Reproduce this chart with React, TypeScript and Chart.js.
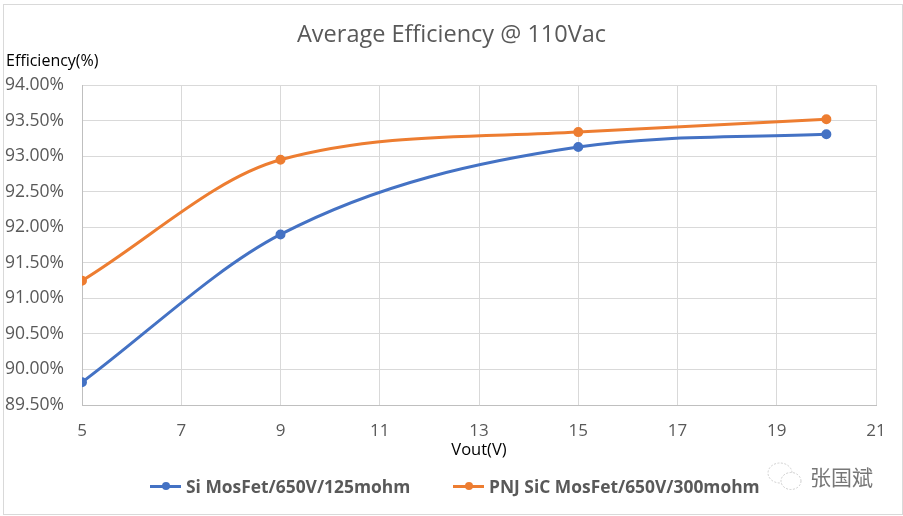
import { useEffect, useRef } from "react";
import { Chart, registerables } from "chart.js";

Chart.register(...registerables);

const vout = [5, 9, 15, 20];
const siEff = [89.82, 91.9, 93.13, 93.31];
const sicEff = [91.25, 92.95, 93.34, 93.52];
const seriesNames = ["Si MosFet/650V/125mohm", "PNJ SiC MosFet/650V/300mohm"];
const seriesColors = ["#4472c4", "#ed7d31"];
const FONT = "'Open Sans', 'Noto Sans', sans-serif";

function toPoints(xs: number[], ys: number[]) {
    return xs.map((x, i) => ({ x, y: ys[i] }));
}

function LegendItem({ name, color, left }: { name: string; color: string; left: number }) {
    return (
        <div style={{ position: "absolute", left, top: 474, height: 24, display: "flex", alignItems: "center", whiteSpace: "nowrap" }}>
            <span style={{ position: "relative", display: "inline-block", width: 31, height: 3, background: color, marginRight: 5 }}>
                <span style={{ position: "absolute", left: 12, top: -2.5, width: 8, height: 8, borderRadius: "50%", background: color }}></span>
            </span>
            <span style={{ font: `bold 17.4px ${FONT}`, color: "#595959" }}>{name}</span>
        </div>
    );
}

export default function App() {
    const chartRef = useRef<HTMLCanvasElement>(null);

    useEffect(() => {
        if (!chartRef.current) return;
        document.body.style.margin = "0";

        const chart = new Chart(chartRef.current, {
            type: "scatter",
            data: {
                datasets: [
                    {
                        label: seriesNames[0],
                        data: toPoints(vout, siEff),
                        showLine: true,
                        borderColor: seriesColors[0],
                        backgroundColor: seriesColors[0],
                        borderWidth: 3,
                        pointRadius: 3.5,
                        cubicInterpolationMode: "monotone",
                    },
                    {
                        label: seriesNames[1],
                        data: toPoints(vout, sicEff),
                        showLine: true,
                        borderColor: seriesColors[1],
                        backgroundColor: seriesColors[1],
                        borderWidth: 3,
                        pointRadius: 3.5,
                        cubicInterpolationMode: "monotone",
                    },
                ],
            },
            options: {
                animation: false,
                responsive: false,
                layout: { padding: { left: 0, right: 0, top: 21, bottom: 46 } },
                plugins: {
                    title: {
                        display: true,
                        text: "Average Efficiency @ 110Vac",
                        color: "#595959",
                        font: { family: FONT, size: 23.5, weight: "normal" },
                        padding: { top: 0, bottom: 36 },
                    },
                    legend: { display: false },
                    tooltip: { enabled: false },
                },
                scales: {
                    x: {
                        type: "linear",
                        min: 5,
                        max: 21,
                        afterFit: (scale) => {
                            scale.height = 65;
                        },
                        ticks: {
                            stepSize: 2,
                            color: "#595959",
                            padding: 16,
                            font: { family: FONT, size: 17 },
                        },
                        grid: { color: "#d9d9d9", lineWidth: 1, drawTicks: false },
                        border: { color: "#bfbfbf" },
                        title: {
                            display: true,
                            text: "Vout(V)",
                            color: "#000000",
                            font: { family: FONT, size: 16.5 },
                            padding: { top: 0, bottom: 10 },
                        },
                    },
                    y: {
                        min: 89.5,
                        max: 94,
                        afterFit: (scale) => {
                            scale.width = 82;
                        },
                        ticks: {
                            stepSize: 0.5,
                            color: "#595959",
                            padding: 18,
                            font: { family: FONT, size: 17.5 },
                            callback: (value) => Number(value).toFixed(2) + "%",
                        },
                        grid: { color: "#d9d9d9", lineWidth: 1, drawTicks: false },
                        border: { color: "#bfbfbf" },
                    },
                    // empty axis, keeps the right margin without moving the title off centre
                    right: {
                        position: "right",
                        afterFit: (scale) => {
                            scale.width = 27;
                        },
                        ticks: { display: false },
                        grid: { display: false },
                        border: { display: false },
                    },
                },
            },
        });

        return () => chart.destroy();
    }, []);

    return (
        <div style={{ position: "relative", width: 903, height: 516, overflow: "hidden", background: "#fff" }}>
            <canvas ref={chartRef} width={903} height={516} style={{ position: "absolute", left: 0, top: 0 }}></canvas>
            <div style={{ position: "absolute", left: 3, top: 4, width: 898, height: 509, border: "1px solid #d9d9d9", pointerEvents: "none" }}></div>
            <div style={{ position: "absolute", left: 6, top: 49, font: `16px ${FONT}`, color: "#000" }}>Efficiency(%)</div>
            <LegendItem name={seriesNames[0]} color={seriesColors[0]} left={150} />
            <LegendItem name={seriesNames[1]} color={seriesColors[1]} left={453} />
            <svg style={{ position: "absolute", left: 766, top: 460 }} width="38" height="34">
                <ellipse cx="14" cy="13" rx="12" ry="10" fill="#fff" stroke="#cfcfcf" strokeDasharray="2 1.5" />
                <ellipse cx="25" cy="21" rx="10" ry="8.5" fill="#fff" stroke="#cfcfcf" strokeDasharray="2 1.5" />
            </svg>
            <div style={{ position: "absolute", left: 810, top: 461, font: "21px 'Noto Sans CJK SC'", color: "#777", whiteSpace: "nowrap" }}>张国斌</div>
        </div>
    );
}
